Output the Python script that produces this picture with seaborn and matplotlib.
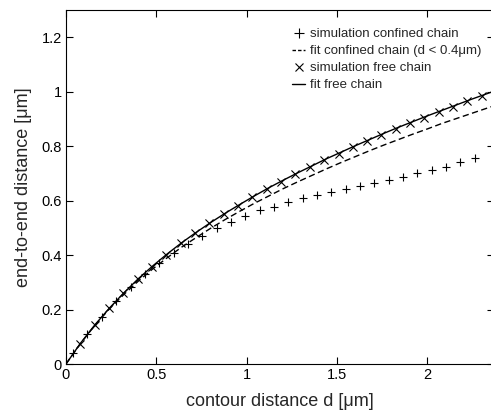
import numpy as np
import pandas as pd
import matplotlib
matplotlib.use('Agg')
import matplotlib.pyplot as plt
import seaborn as sns
from matplotlib.lines import Line2D
from matplotlib.ticker import FuncFormatter

# --- data ---
# simulation, free chain (x markers)
free_d = [0.079, 0.159, 0.238, 0.318, 0.397, 0.476, 0.556, 0.635, 0.715, 0.794,
          0.873, 0.953, 1.032, 1.112, 1.191, 1.270, 1.350, 1.429, 1.509, 1.588,
          1.667, 1.747, 1.826, 1.906, 1.985, 2.064, 2.144, 2.223, 2.303]
free_r = [0.075, 0.143, 0.204, 0.260, 0.311, 0.358, 0.402, 0.443, 0.481, 0.516,
          0.550, 0.582, 0.613, 0.642, 0.670, 0.697, 0.723, 0.748, 0.772, 0.796,
          0.819, 0.841, 0.863, 0.884, 0.905, 0.925, 0.945, 0.964, 0.985]

# simulation, confined chain (+ markers)
conf_d = [0.040, 0.119, 0.199, 0.278, 0.358, 0.437, 0.516, 0.596, 0.675, 0.755,
          0.834, 0.913, 0.993, 1.072, 1.152, 1.231, 1.310, 1.390, 1.469, 1.549,
          1.628, 1.707, 1.787, 1.866, 1.946, 2.025, 2.104, 2.184, 2.263]
conf_r = [0.039, 0.110, 0.174, 0.232, 0.284, 0.330, 0.371, 0.407, 0.441, 0.471,
          0.499, 0.521, 0.545, 0.564, 0.578, 0.594, 0.609, 0.619, 0.630, 0.642,
          0.652, 0.664, 0.674, 0.686, 0.701, 0.713, 0.725, 0.741, 0.758]

# fit curves
fit_d = [0.00, 0.08, 0.16, 0.24, 0.32, 0.40, 0.48, 0.56, 0.64, 0.72, 0.80,
         0.88, 0.96, 1.04, 1.12, 1.20, 1.28, 1.36, 1.44, 1.52, 1.60, 1.68,
         1.76, 1.84, 1.92, 2.00, 2.08, 2.16, 2.24, 2.32, 2.40]
fit_free_r = [0.000, 0.076, 0.144, 0.205, 0.261, 0.313, 0.360, 0.404, 0.445, 0.483,
              0.519, 0.553, 0.585, 0.616, 0.646, 0.674, 0.701, 0.727, 0.753, 0.777,
              0.801, 0.824, 0.847, 0.869, 0.890, 0.911, 0.931, 0.951, 0.971, 0.990, 1.009]
fit_conf_r = [0.000, 0.075, 0.142, 0.202, 0.255, 0.304, 0.349, 0.390, 0.429, 0.464,
              0.498, 0.530, 0.560, 0.589, 0.616, 0.643, 0.668, 0.692, 0.716, 0.739,
              0.761, 0.783, 0.804, 0.824, 0.844, 0.863, 0.883, 0.901, 0.919, 0.937, 0.955]

legend_labels = ['simulation confined chain', 'fit confined chain (d < 0.4μm)',
                 'simulation free chain', 'fit free chain']

# --- plot ---
sns.set_style('ticks')
plt.rcParams['font.family'] = ['Liberation Sans', 'DejaVu Sans']

fig = plt.figure(figsize=(4.91, 4.12), dpi=100)
ax = fig.add_axes([66 / 491, 48 / 412, 428 / 491, 354 / 412])

fits = pd.DataFrame({'d': fit_d, 'free': fit_free_r, 'conf': fit_conf_r})
sns.lineplot(data=fits, x='d', y='free', ax=ax, color='black', lw=1.0,
             sort=False, estimator=None)
sns.lineplot(data=fits, x='d', y='conf', ax=ax, color='black', lw=1.0,
             sort=False, estimator=None, linestyle=(0, (4.5, 2.5)))
sns.scatterplot(x=free_d, y=free_r, ax=ax, marker='x', color='black',
                s=34, linewidth=0.8)
sns.scatterplot(x=conf_d, y=conf_r, ax=ax, marker='+', color='black',
                s=40, linewidth=0.8)

ax.set_xlim(0, 2.37)
ax.set_ylim(0, 1.3)
ax.set_xticks([0, 0.5, 1, 1.5, 2])
ax.set_yticks([0, 0.2, 0.4, 0.6, 0.8, 1, 1.2])
fmt = FuncFormatter(lambda v, p: f'{v:g}')
ax.xaxis.set_major_formatter(fmt)
ax.yaxis.set_major_formatter(fmt)
ax.tick_params(direction='in', length=5, width=0.8, top=True, right=True,
               labelsize=10.5, colors='black', pad=3)
for s in ax.spines.values():
    s.set_visible(True)
    s.set_linewidth(0.8)
    s.set_color('black')

ax.set_xlabel('contour distance d [μm]', fontsize=13, labelpad=8)
ax.set_ylabel('end-to-end distance [μm]', fontsize=13, labelpad=7)

handles = [
    Line2D([], [], color='black', marker='+', linestyle='none', markersize=7, mew=0.8),
    Line2D([], [], color='black', linestyle=(0, (2.5, 1.5)), lw=1.0),
    Line2D([], [], color='black', marker='x', linestyle='none', markersize=6, mew=0.8),
    Line2D([], [], color='black', linestyle='-', lw=1.0),
]
ax.legend(handles, legend_labels, loc='upper left',
          bbox_to_anchor=((292 - 66) / 428, (364 - 28) / 354),
          frameon=False, fontsize=9.5, handlelength=1.0, handletextpad=0.4,
          labelspacing=0.36, borderpad=0, borderaxespad=0)

fig.savefig('out.png', dpi=100)
